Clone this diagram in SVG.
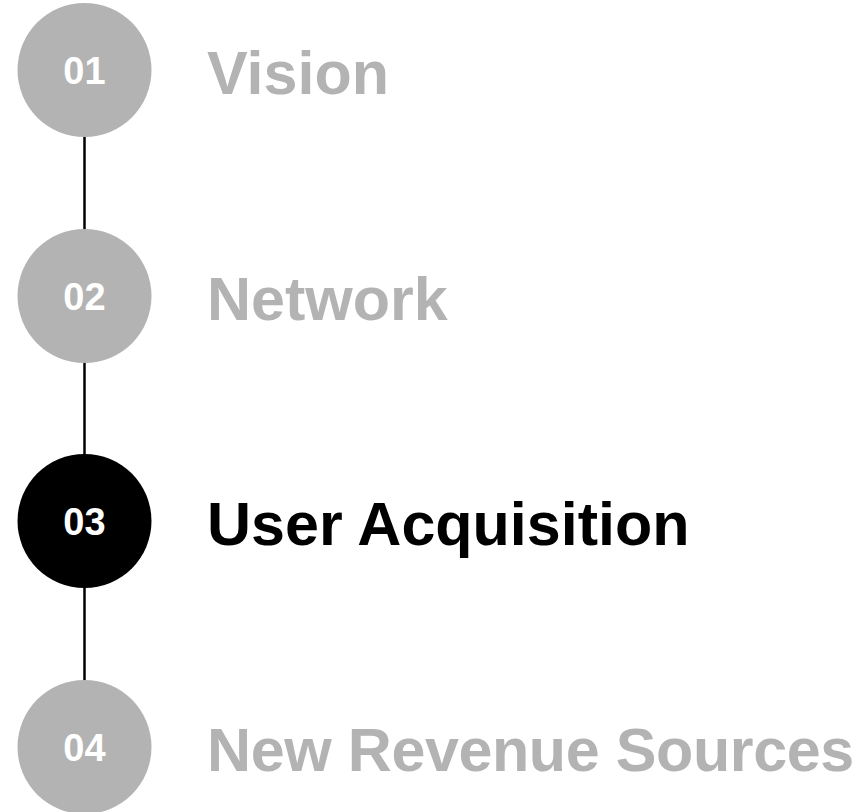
<svg xmlns="http://www.w3.org/2000/svg" width="864" height="812" viewBox="0 0 864 812">
<style>
.c{fill:#b3b3b3}
.c.on{fill:#000}
.n{font-family:"Liberation Sans",Arial,sans-serif;font-weight:bold;font-size:38px;fill:#fff;text-anchor:middle}
.t{font-family:"Liberation Sans",Arial,sans-serif;font-weight:bold;font-size:61px;fill:#b3b3b3}
.t.on{fill:#000}
.l{stroke:#000;stroke-width:2.5}
</style>
<rect width="864" height="812" fill="#fff"/>
<g id="connectors">
<line class="l" x1="84.5" y1="137" x2="84.5" y2="229"/>
<line class="l" x1="84.5" y1="362" x2="84.5" y2="455"/>
<line class="l" x1="84.5" y1="588" x2="84.5" y2="681"/>
</g>
<g id="step1"><circle class="c" cx="84.5" cy="70" r="67"/><text class="n" x="84.5" y="84">01</text><text class="t" x="207" y="94">Vision</text></g>
<g id="step2"><circle class="c" cx="84.5" cy="296" r="67"/><text class="n" x="84.5" y="310">02</text><text class="t" x="207" y="320">Network</text></g>
<g id="step3"><circle class="c on" cx="84.5" cy="521" r="67"/><text class="n" x="84.5" y="535">03</text><text class="t on" x="207" y="545">User Acquisition</text></g>
<g id="step4"><circle class="c" cx="84.5" cy="747" r="67"/><text class="n" x="84.5" y="761">04</text><text class="t" x="207" y="771" letter-spacing="-0.4">New Revenue Sources</text></g>
</svg>
